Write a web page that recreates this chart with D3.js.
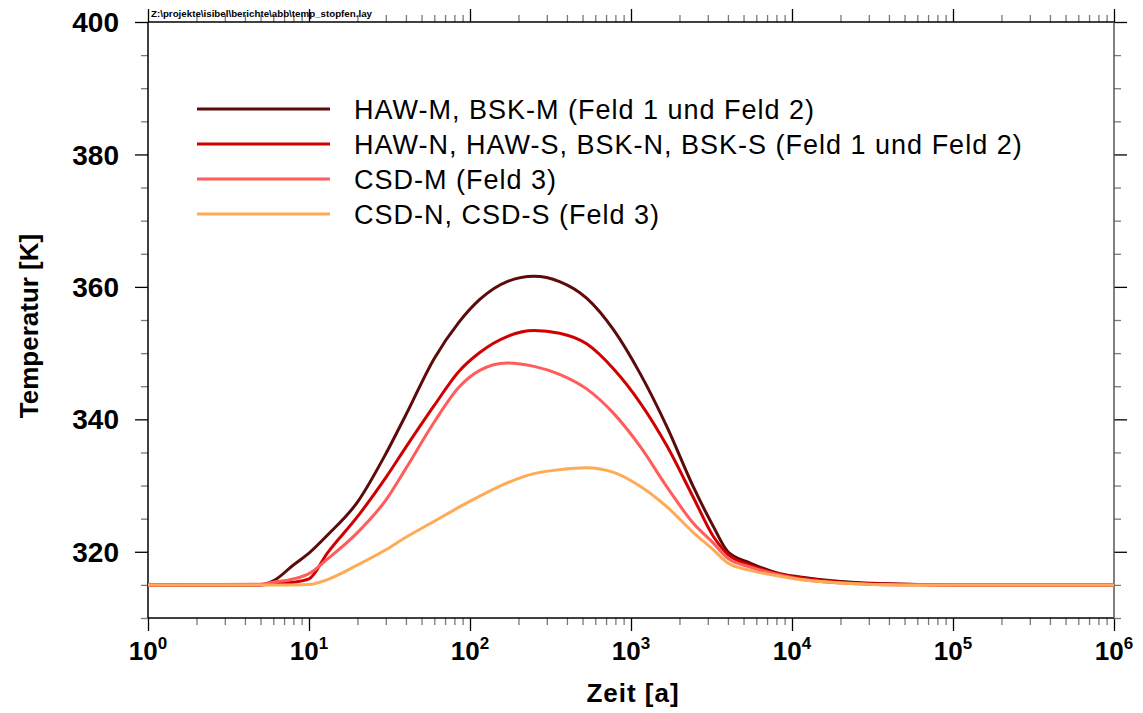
<!DOCTYPE html>
<html>
<head>
<meta charset="utf-8">
<script src="https://cdn.jsdelivr.net/npm/d3@7/dist/d3.min.js"></script>
<style>
  body { margin: 0; background: #fff; }
  text { font-family: "Liberation Sans", Arial, sans-serif; }
</style>
</head>
<body>
<div class="svg-container"></div>
<script>
// Zeit [a] (shared sampling grid for all curves)
var zeit = [1, 5, 6, 8, 10, 13, 20, 30, 40, 60, 85, 115, 170, 250, 360, 530, 780,
            1140, 1670, 2440, 3250, 4000, 5500, 8400, 11200, 20000, 50000, 1e5, 1e6];

// Temperatur [K]
var hawBskM   = [315, 315, 315.6, 318, 319.8, 322.5, 327.5, 334.8, 340.7, 349.2, 354.6, 358.1, 360.8, 361.6, 360.8, 358.3, 353.5,
                 346.9, 338.9, 329.8, 323.8, 320.0, 318.3, 316.7, 316.2, 315.5, 315.1, 315, 315];
var hawBskNS  = [315, 315, 315.2, 315.4, 315.9, 319.8, 325.3, 331.2, 335.8, 342.1, 347.2, 350.1, 352.5, 353.4, 353.0, 351.4, 347.6,
                 342.5, 336.0, 328.2, 322.3, 319.6, 318.0, 316.6, 316.1, 315.4, 315.1, 315, 315];
var csdM      = [315, 315.1, 315.4, 315.9, 316.7, 318.9, 322.9, 327.8, 332.6, 339.6, 344.8, 347.4, 348.5, 348.0, 346.8, 344.6, 340.9,
                 335.9, 329.8, 324.3, 321.3, 319.0, 317.7, 316.5, 315.9, 315.3, 315.0, 315, 315];
var csdNS     = [315, 315, 315, 315, 315.05, 315.8, 318.0, 320.3, 322.2, 324.6, 326.7, 328.4, 330.4, 331.8, 332.4, 332.7, 332.0,
                 329.9, 326.8, 322.9, 320.3, 318.3, 317.2, 316.3, 315.8, 315.3, 315.0, 315, 315];

var seriesNames = ["HAW-M, BSK-M (Feld 1 und Feld 2)",
                   "HAW-N, HAW-S, BSK-N, BSK-S (Feld 1 und Feld 2)",
                   "CSD-M (Feld 3)",
                   "CSD-N, CSD-S (Feld 3)"];
var seriesColors = ["#5c0a0a", "#d00000", "#ff5c5c", "#ffaa55"];
var seriesValues = [hawBskM, hawBskNS, csdM, csdNS];

var yMajorTicks = [320, 340, 360, 380, 400];
var xExponents = [0, 1, 2, 3, 4, 5, 6];

var svgWidth = 1143, svgHeight = 713;
var plot = {left: 148, right: 1114, top: 22, bottom: 618};

var svg = d3.select(".svg-container").append("svg")
  .attr("width", svgWidth)
  .attr("height", svgHeight);

var x = d3.scaleLog().domain([1, 1e6]).range([plot.left, plot.right]);
var y = d3.scaleLinear().domain([310, 400]).range([plot.bottom, plot.top]);

var majorX = xExponents.map(function(e){ return Math.pow(10, e); });
var minorX = [];
xExponents.slice(0, -1).forEach(function(e){
  for (var k = 2; k <= 9; k++) minorX.push(k * Math.pow(10, e));
});
var minorY = d3.range(310, 401, 5).filter(function(v){ return yMajorTicks.indexOf(v) < 0; });

function styleAxis(g, color) {
  g.select(".domain").remove();
  g.selectAll("line").attr("stroke", color).attr("stroke-width", 1.3);
}

// minor ticks (grey), then major ticks (black), on all four sides
var sides = [
  {axis: d3.axisBottom, scale: x, tr: "translate(0," + plot.bottom + ")", minor: minorX, major: majorX},
  {axis: d3.axisTop, scale: x, tr: "translate(0," + plot.top + ")", minor: minorX, major: majorX},
  {axis: d3.axisLeft, scale: y, tr: "translate(" + plot.left + ",0)", minor: minorY, major: yMajorTicks},
  {axis: d3.axisRight, scale: y, tr: "translate(" + plot.right + ",0)", minor: minorY, major: yMajorTicks}
];
sides.forEach(function(s){
  svg.append("g").attr("transform", s.tr)
    .call(s.axis(s.scale).tickValues(s.minor).tickSize(7).tickFormat(""))
    .call(styleAxis, "#7a7a7a");
  svg.append("g").attr("transform", s.tr)
    .call(s.axis(s.scale).tickValues(s.major).tickSize(13).tickFormat(""))
    .call(styleAxis, "#000");
});

// frame
svg.append("line").attr("x1", plot.left).attr("x2", plot.right).attr("y1", plot.top).attr("y2", plot.top)
  .attr("stroke", "#000").attr("stroke-width", 1.5);
svg.append("line").attr("x1", plot.left).attr("x2", plot.right).attr("y1", plot.bottom).attr("y2", plot.bottom)
  .attr("stroke", "#000").attr("stroke-width", 1.5);
svg.append("line").attr("x1", plot.left).attr("x2", plot.left).attr("y1", plot.top).attr("y2", plot.bottom)
  .attr("stroke", "#000").attr("stroke-width", 1.5);
svg.append("line").attr("x1", plot.right).attr("x2", plot.right).attr("y1", plot.top).attr("y2", plot.bottom)
  .attr("stroke", "#555").attr("stroke-width", 1.5);

// y tick labels
svg.append("g").selectAll("text").data(yMajorTicks)
  .enter().append("text")
  .attr("x", 119)
  .attr("y", function(d){ return y(d); })
  .attr("dy", "0.36em")
  .attr("text-anchor", "end")
  .attr("font-size", 28)
  .attr("font-weight", "bold")
  .text(function(d){ return d; });

// x tick labels 10^n
var xl = svg.append("g").selectAll("text").data(xExponents)
  .enter().append("text")
  .attr("x", function(d){ return x(Math.pow(10, d)); })
  .attr("y", 660)
  .attr("text-anchor", "middle")
  .attr("font-size", 26)
  .attr("font-weight", "bold");
xl.append("tspan").text("10");
xl.append("tspan").attr("dy", -11).attr("font-size", 17).text(function(d){ return d; });

// axis titles
svg.append("text")
  .attr("x", 633).attr("y", 702)
  .attr("text-anchor", "middle")
  .attr("font-size", 26)
  .attr("font-weight", "bold")
  .attr("letter-spacing", 1)
  .text("Zeit [a]");
svg.append("text")
  .attr("transform", "translate(38,326) rotate(-90)")
  .attr("text-anchor", "middle")
  .attr("font-size", 26)
  .attr("font-weight", "bold")
  .text("Temperatur [K]");

// file path label
svg.append("text")
  .attr("x", 151).attr("y", 17)
  .attr("font-size", 9.5)
  .attr("font-weight", "bold")
  .attr("textLength", 221)
  .attr("lengthAdjust", "spacingAndGlyphs")
  .text("Z:\\projekte\\isibel\\berichte\\abb\\temp_stopfen.lay");

// curves
var line = d3.line()
  .x(function(d){ return x(d[0]); })
  .y(function(d){ return y(d[1]); })
  .curve(d3.curveMonotoneX);

svg.append("g").attr("id", "g_lines").selectAll("path").data(seriesValues)
  .enter().append("path")
  .attr("d", function(vals){ return line(zeit.map(function(t, i){ return [t, vals[i]]; })); })
  .attr("fill", "none")
  .attr("stroke", function(d, i){ return seriesColors[i]; })
  .attr("stroke-width", 3)
  .attr("stroke-linejoin", "round");

// legend
var legend = svg.append("g").attr("id", "g_legend").selectAll("g").data(seriesNames)
  .enter().append("g")
  .attr("transform", function(d, i){ return "translate(0," + (109 + i * 35) + ")"; });
legend.append("line")
  .attr("x1", 197).attr("x2", 330)
  .attr("stroke", function(d, i){ return seriesColors[i]; })
  .attr("stroke-width", 3);
legend.append("text")
  .attr("x", 354)
  .attr("dy", "0.36em")
  .attr("font-size", 27)
  .attr("letter-spacing", 1)
  .text(function(d){ return d; });
</script>
</body>
</html>
